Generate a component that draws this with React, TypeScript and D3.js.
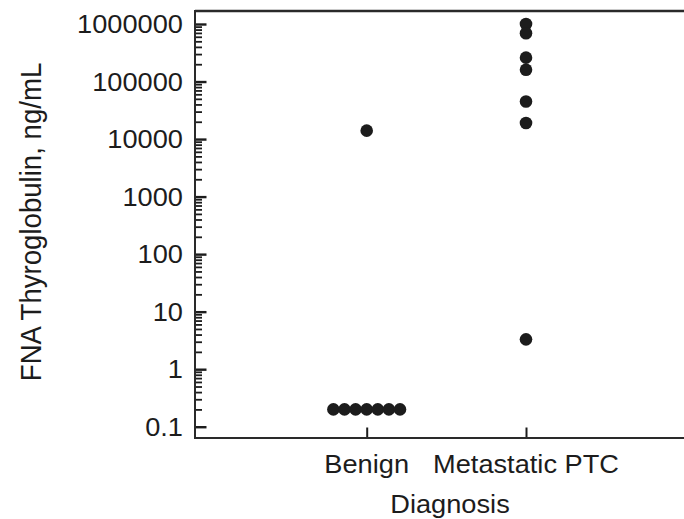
import React, { useEffect, useRef } from "react";
import * as d3 from "d3";

// categories on the x axis
const categories = ["Benign", "Metastatic PTC"];

// FNA thyroglobulin (ng/mL) per patient
const benignValues = [0.2, 0.2, 0.2, 0.2, 0.2, 0.2, 0.2, 14000];
const metastaticValues = [1000000, 690000, 260000, 160000, 45000, 19000, 3.3];

// labelled decades on the y axis
const yTickValues = [0.1, 1, 10, 100, 1000, 10000, 100000, 1000000];
const yTickLabels = ["0.1", "1", "10", "100", "1000", "10000", "100000", "1000000"];

const xTitle = "Diagnosis";
const yTitle = "FNA Thyroglobulin, ng/mL";

export default function App() {
  const ref = useRef<SVGSVGElement>(null);

  useEffect(() => {
    const W = 684,
      H = 519;
    const left = 195,
      right = 684,
      top = 11,
      bottom = 438;
    const font = "'Liberation Sans', Arial, Helvetica, sans-serif";
    const stretch = 1.063; // text in the figure is a little wider than tall
    const ink = "#1c1c1c";

    const svg = d3.select(ref.current).attr("width", W).attr("height", H);
    svg.selectAll("*").remove();

    // Y scale (log)
    const y = d3
      .scaleLog()
      .domain([Math.pow(10, -1.196), Math.pow(10, 6.226)])
      .range([bottom, top]);

    // X scale
    const x = d3.scalePoint<string>().domain(categories).range([366.7, 526]);

    // minor ticks 2..9 x 10^k
    const minor: number[] = [];
    yTickValues.slice(0, -1).forEach(d => {
      for (let m = 2; m <= 9; m++) minor.push(d * m);
    });

    const yMinor = svg
      .append("g")
      .attr("transform", `translate(${left},0)`)
      .call(d3.axisLeft(y).tickValues(minor).tickSize(-7).tickFormat(() => ""));
    yMinor.select(".domain").remove();
    yMinor.selectAll("line").attr("stroke", ink).attr("stroke-width", 1.8);

    const yMajor = svg
      .append("g")
      .attr("transform", `translate(${left},0)`)
      .call(d3.axisLeft(y).tickValues(yTickValues).tickSize(-11.5).tickFormat(() => ""));
    yMajor.select(".domain").remove();
    yMajor.selectAll("line").attr("stroke", ink).attr("stroke-width", 2.4);

    // y tick labels
    svg
      .append("g")
      .selectAll("text")
      .data(yTickValues)
      .join("text")
      .attr("transform", d => `translate(183,${y(d) + 9.2}) scale(${stretch},1)`)
      .attr("text-anchor", "end")
      .style("font-family", font)
      .style("font-size", "25.6px")
      .attr("fill", ink)
      .text((d, i) => yTickLabels[i]);

    // x ticks (pointing into the plot)
    const xAxis = svg
      .append("g")
      .attr("transform", `translate(0,${bottom})`)
      .call(d3.axisBottom(x).tickSize(-10.5).tickFormat(() => ""));
    xAxis.select(".domain").remove();
    xAxis.selectAll("line").attr("stroke", ink).attr("stroke-width", 2);

    // x tick labels
    svg
      .append("g")
      .selectAll("text")
      .data(categories)
      .join("text")
      .attr("transform", d => `translate(${x(d)},473.3) scale(${stretch},1)`)
      .attr("text-anchor", "middle")
      .style("font-family", font)
      .style("font-size", "25.6px")
      .attr("fill", ink)
      .text(d => d);

    // frame: left axis, top line, bottom line
    const frame = svg.append("g").attr("stroke", "#2a2a2a").attr("fill", "none");
    frame.append("line").attr("x1", left).attr("x2", left).attr("y1", top - 1).attr("y2", bottom + 1).attr("stroke-width", 2);
    frame.append("line").attr("x1", left).attr("x2", right).attr("y1", top).attr("y2", top).attr("stroke-width", 2.4);
    frame.append("line").attr("x1", left).attr("x2", right).attr("y1", bottom).attr("y2", bottom).attr("stroke-width", 2);

    // points: repeated values are laid side by side
    const spread = 11.1;
    const placed = (cat: string, values: number[]) => {
      const counts = d3.rollup(values, v => v.length, d => d);
      const seen = new Map<number, number>();
      return values.map(v => {
        const n = counts.get(v) || 1;
        const k = seen.get(v) || 0;
        seen.set(v, k + 1);
        return { cx: (x(cat) as number) + (k - (n - 1) / 2) * spread, cy: y(v) };
      });
    };
    const points = [...placed(categories[0], benignValues), ...placed(categories[1], metastaticValues)];

    svg
      .append("g")
      .selectAll("circle")
      .data(points)
      .join("circle")
      .attr("cx", d => d.cx)
      .attr("cy", d => d.cy)
      .attr("r", 6.3)
      .attr("fill", ink);

    // axis titles
    svg
      .append("text")
      .attr("transform", `translate(450,513) scale(${stretch},1)`)
      .attr("text-anchor", "middle")
      .style("font-family", font)
      .style("font-size", "25.6px")
      .attr("fill", ink)
      .text(xTitle);

    svg
      .append("text")
      .attr("transform", `translate(41,222) scale(1.1,1) rotate(-90)`)
      .attr("text-anchor", "middle")
      .style("font-family", font)
      .style("font-size", "27.6px")
      .attr("fill", ink)
      .text(yTitle);
  }, []);

  return <svg ref={ref} style={{ position: "absolute", left: 0, top: 0, background: "#fff" }} />;
}
